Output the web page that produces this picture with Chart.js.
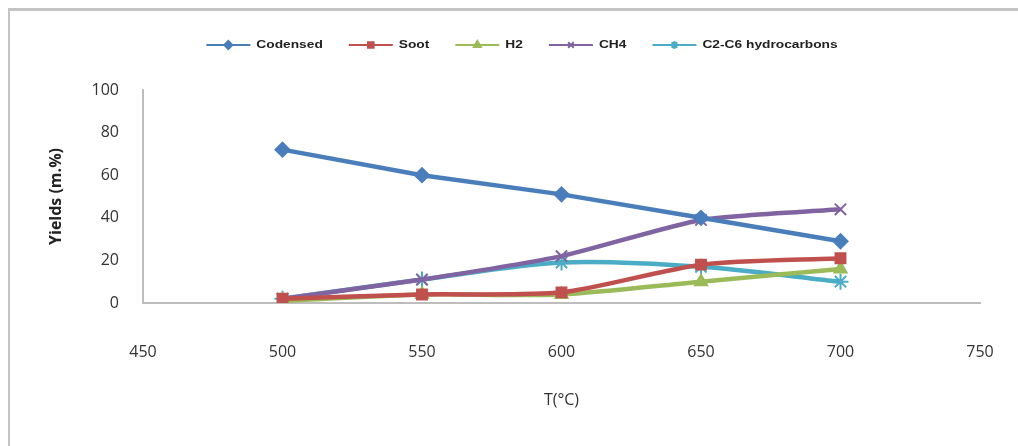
<!DOCTYPE html>
<html>
<head>
<meta charset="utf-8">
<script src="https://cdn.jsdelivr.net/npm/chart.js@4/dist/chart.umd.min.js"></script>
<style>
  html, body { margin: 0; padding: 0; background: #fff; overflow: hidden; width: 1018px; height: 446px; }
  #frame { position: absolute; left: 8px; top: 8px; width: 1300px; height: 700px; border-left: 2px solid #c4c4c4; border-top: 3px solid #c4c4c4; }
  #wrap { position: absolute; left: 0; top: 0; width: 1018px; height: 446px; }
</style>
</head>
<body>
<div id="frame"></div>
<div id="wrap"><canvas id="chart"></canvas></div>
<script>
const temps = [500, 550, 600, 650, 700];
const condensed = [72, 60, 51, 40, 29];
const soot = [2, 4, 5, 18, 21];
const h2 = [1, 4, 4, 10, 16];
const ch4 = [2, 11, 22, 39, 44];
const c2c6 = [2, 11, 19, 17, 10];

const seriesNames = ['Codensed', 'Soot', 'H2', 'CH4', 'C2-C6 hydrocarbons'];
const seriesValues = [condensed, soot, h2, ch4, c2c6];
const colors = ['#4a7ebb', '#c0504d', '#9bbb59', '#8064a2', '#4bacc6'];
const markers = ['rectRot', 'rect', 'triangle', 'crossRot', 'star'];
const tensions = [0, 0.25, 0.25, 0.2, 0.3];

const datasets = seriesValues.map((vals, i) => ({
  label: seriesNames[i],
  data: vals.map((v, j) => ({ x: temps[j], y: v })),
  borderColor: colors[i],
  backgroundColor: colors[i],
  borderWidth: 4.5,
  pointStyle: markers[i],
  pointRadius: markers[i] === 'crossRot' || markers[i] === 'star' ? 8 : 7,
  pointBorderWidth: 2,
  pointBorderColor: colors[i],
  pointBackgroundColor: colors[i],
  tension: tensions[i]
}));

// legend drawn by hand: line with marker in the middle, like the spreadsheet style
const lineLegend = {
  id: 'lineLegend',
  afterDraw(chart) {
    const ctx = chart.ctx;
    ctx.save();
    ctx.font = 'bold 11px "Liberation Sans", Arial';
    ctx.textBaseline = 'middle';
    const lineLen = 44, gapText = 6, gapItem = 26, y = 45;
    let total = 0;
    seriesNames.forEach(n => { total += lineLen + gapText + ctx.measureText(n).width * 1.25; });
    total += gapItem * (seriesNames.length - 1);
    let x = 522 - total / 2;
    seriesNames.forEach((n, i) => {
      ctx.strokeStyle = colors[i];
      ctx.lineWidth = 2;
      ctx.beginPath();
      ctx.moveTo(x, y);
      ctx.lineTo(x + lineLen, y);
      ctx.stroke();
      ctx.fillStyle = colors[i];
      Chart.helpers.drawPoint(ctx, {
        pointStyle: markers[i], radius: 4, borderWidth: 1.5, rotation: 0
      }, x + lineLen / 2, y);
      ctx.fill();
      ctx.fillStyle = '#222';
      const w = ctx.measureText(n).width * 1.25;
      ctx.save();
      ctx.translate(x + lineLen + gapText, y);
      ctx.scale(1.25, 1);
      ctx.fillText(n, 0, 0);
      ctx.restore();
      x += lineLen + gapText + w + gapItem;
    });
    ctx.restore();
  }
};

new Chart(document.getElementById('chart'), {
  type: 'line',
  data: { datasets },
  plugins: [lineLegend],
  options: {
    responsive: true,
    maintainAspectRatio: false,
    animation: false,
    layout: { padding: { top: 90, right: 38, left: 0, bottom: 0 } },
    plugins: {
      legend: { display: false },
      tooltip: { enabled: false }
    },
    scales: {
      x: {
        type: 'linear',
        min: 450,
        max: 750,
        afterFit: s => { s.height = 143; s.paddingLeft = 0; s.paddingRight = 0; },
        grid: { display: false, drawTicks: false },
        border: { color: '#bdbdbd', width: 2 },
        ticks: {
          stepSize: 50,
          padding: 40,
          color: '#333',
          font: { family: '"Open Sans", sans-serif', size: 16 }
        },
        title: {
          display: true,
          text: 'T(°C)',
          color: '#333',
          padding: { top: 0, bottom: 36 },
          font: { family: '"Open Sans", sans-serif', size: 16 }
        }
      },
      y: {
        min: 0,
        max: 100,
        afterFit: s => { s.width = 143; },
        grid: { display: false, drawTicks: false },
        border: { color: '#bdbdbd', width: 2 },
        ticks: {
          stepSize: 20,
          padding: 24,
          color: '#333',
          font: { family: '"Open Sans", sans-serif', size: 16 }
        },
        title: {
          display: true,
          text: 'Yields (m.%)',
          color: '#222',
          padding: { top: 47, bottom: 0 },
          font: { family: '"Open Sans", sans-serif', size: 16, weight: 'bold' }
        }
      }
    }
  }
});
</script>
</body>
</html>
